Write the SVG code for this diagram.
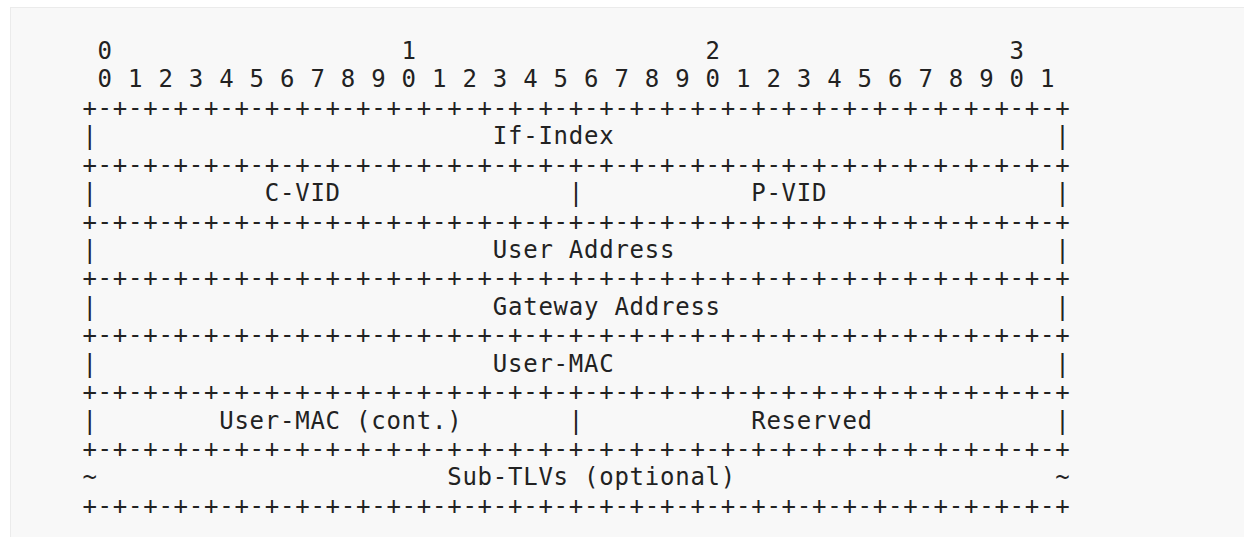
<svg xmlns="http://www.w3.org/2000/svg" width="1244" height="537" viewBox="0 0 1244 537">
  <style>
    text { font-family: "DejaVu Sans Mono", "Liberation Mono", monospace; font-size: 24px; letter-spacing: 0.751px; fill: #222222; }
  </style>
  <rect x="0" y="0" width="1244" height="537" fill="#ffffff"/>
  <rect x="10.5" y="7.5" width="1240" height="540" fill="#f8f8f8" stroke="#ebebeb" stroke-width="1"/>
  <g id="ruler">
    <text x="97.6" y="58.9">0</text>
    <text x="401.6" y="58.9">1</text>
    <text x="705.6" y="58.9">2</text>
    <text x="1009.6" y="58.9">3</text>
    <text x="97.6" y="87.3">0 1 2 3 4 5 6 7 8 9 0 1 2 3 4 5 6 7 8 9 0 1 2 3 4 5 6 7 8 9 0 1</text>
  </g>
  <g id="borders">
    <text x="82.4" y="115.8">+-+-+-+-+-+-+-+-+-+-+-+-+-+-+-+-+-+-+-+-+-+-+-+-+-+-+-+-+-+-+-+-+</text>
    <text x="82.4" y="172.6">+-+-+-+-+-+-+-+-+-+-+-+-+-+-+-+-+-+-+-+-+-+-+-+-+-+-+-+-+-+-+-+-+</text>
    <text x="82.4" y="229.5">+-+-+-+-+-+-+-+-+-+-+-+-+-+-+-+-+-+-+-+-+-+-+-+-+-+-+-+-+-+-+-+-+</text>
    <text x="82.4" y="286.3">+-+-+-+-+-+-+-+-+-+-+-+-+-+-+-+-+-+-+-+-+-+-+-+-+-+-+-+-+-+-+-+-+</text>
    <text x="82.4" y="343.2">+-+-+-+-+-+-+-+-+-+-+-+-+-+-+-+-+-+-+-+-+-+-+-+-+-+-+-+-+-+-+-+-+</text>
    <text x="82.4" y="400.1">+-+-+-+-+-+-+-+-+-+-+-+-+-+-+-+-+-+-+-+-+-+-+-+-+-+-+-+-+-+-+-+-+</text>
    <text x="82.4" y="456.9">+-+-+-+-+-+-+-+-+-+-+-+-+-+-+-+-+-+-+-+-+-+-+-+-+-+-+-+-+-+-+-+-+</text>
    <text x="82.4" y="513.8">+-+-+-+-+-+-+-+-+-+-+-+-+-+-+-+-+-+-+-+-+-+-+-+-+-+-+-+-+-+-+-+-+</text>
  </g>
  <g id="row-if-index">
    <text x="82.4" y="144.2">|</text>
    <text x="492.8" y="144.2">If-Index</text>
    <text x="1055.2" y="144.2">|</text>
  </g>
  <g id="row-vid">
    <text x="82.4" y="201.1">|</text>
    <text x="264.8" y="201.1">C-VID</text>
    <text x="568.8" y="201.1">|</text>
    <text x="751.2" y="201.1">P-VID</text>
    <text x="1055.2" y="201.1">|</text>
  </g>
  <g id="row-user-address">
    <text x="82.4" y="257.9">|</text>
    <text x="492.8" y="257.9">User Address</text>
    <text x="1055.2" y="257.9">|</text>
  </g>
  <g id="row-gateway-address">
    <text x="82.4" y="314.8">|</text>
    <text x="492.8" y="314.8">Gateway Address</text>
    <text x="1055.2" y="314.8">|</text>
  </g>
  <g id="row-user-mac">
    <text x="82.4" y="371.6">|</text>
    <text x="492.8" y="371.6">User-MAC</text>
    <text x="1055.2" y="371.6">|</text>
  </g>
  <g id="row-user-mac-cont">
    <text x="82.4" y="428.5">|</text>
    <text x="219.2" y="428.5">User-MAC (cont.)</text>
    <text x="568.8" y="428.5">|</text>
    <text x="751.2" y="428.5">Reserved</text>
    <text x="1055.2" y="428.5">|</text>
  </g>
  <g id="row-sub-tlvs">
    <text x="82.4" y="485.4">~</text>
    <text x="447.2" y="485.4">Sub-TLVs (optional)</text>
    <text x="1055.2" y="485.4">~</text>
  </g>
  <g id="connectors"/>
</svg>
